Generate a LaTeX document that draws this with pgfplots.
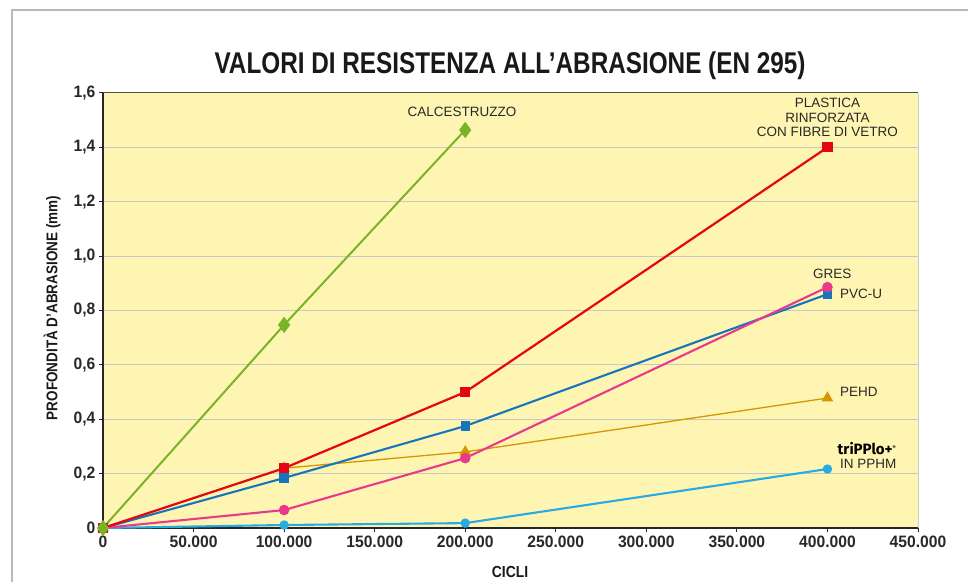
\documentclass[border=0pt]{standalone}
\usepackage{pgfplots}
\pgfplotsset{compat=1.18}
\usepackage{fontspec}
\setmainfont{Liberation Sans}
\newfontfamily\titlefont[FakeStretch=0.81]{Liberation Sans}
\newfontfamily\condfont[FakeStretch=0.87]{Liberation Sans}
\newfontfamily\tickfont[FakeStretch=0.95]{Liberation Sans}
\newfontfamily\logofont{Fira Sans}
\definecolor{bgy}{RGB}{255,245,178}
\definecolor{cgreen}{RGB}{120,180,40}
\definecolor{cred}{RGB}{227,6,19}
\definecolor{cblue}{RGB}{22,117,188}
\definecolor{cpink}{RGB}{232,57,140}
\definecolor{corange}{RGB}{214,150,0}
\definecolor{ccyan}{RGB}{41,171,226}
\definecolor{txt}{RGB}{40,40,40}
\begin{document}
\begin{tikzpicture}
\path[use as bounding box] (0,0) rectangle (968pt,582pt);
\draw[gray!55, line width=1.2pt] (12pt,0) -- (12pt,572pt) -- (968pt,572pt);
\begin{axis}[
  at={(103pt,54pt)}, anchor=south west,
  scale only axis, width=815pt, height=435pt,
  xmin=0, xmax=450000, ymin=0, ymax=1.6,
  axis lines*=left,
  axis line style={line width=1.8pt, color=black!85},
  axis background/.style={fill=bgy},
  xtick={0,50000,100000,150000,200000,250000,300000,350000,400000,450000},
  xticklabels={0,50.000,100.000,150.000,200.000,250.000,300.000,350.000,400.000,450.000},
  ytick={0,0.2,0.4,0.6,0.8,1.0,1.2,1.4,1.6},
  yticklabels={0,{0,2},{0,4},{0,6},{0,8},{1,0},{1,2},{1,4},{1,6}},
  scaled x ticks=false,
  tick align=outside, major tick length=4pt,
  tick style={line width=1pt, color=black!85},
  ticklabel style={font=\tickfont\fontsize{16.5}{18}\selectfont\bfseries, text=txt},
  ymajorgrids, grid style={line width=1pt, color=black!22},
  clip=false,
]
\addplot[color=ccyan, line width=2.1pt, mark=*, mark size=3.6pt] coordinates {(0,0) (100000,0.011) (200000,0.018) (400000,0.217)};
\addplot[color=corange, line width=1.3pt, mark=triangle*, mark size=5.5pt] coordinates {(0,0) (100000,0.22) (200000,0.28) (400000,0.478)};
\addplot[color=cblue, line width=2.1pt, mark=square*, mark size=3.6pt] coordinates {(0,0) (100000,0.184) (200000,0.375) (400000,0.86)};
\addplot[color=cpink, line width=2.1pt, mark=*, mark size=4.2pt] coordinates {(0,0) (100000,0.066) (200000,0.257) (400000,0.886)};
\addplot[color=cred, line width=2.2pt, mark=square*, mark size=4pt] coordinates {(0,0) (100000,0.22) (200000,0.50) (400000,1.40)};
\addplot[color=cgreen, line width=2pt, mark=diamond*, mark size=6.5pt] coordinates {(0,0) (100000,0.747) (200000,1.464)};
\node[text=txt, font=\fontsize{13.5}{15}\selectfont] at (axis cs:198200,1.53) {CALCESTRUZZO};
\node[text=txt, font=\fontsize{13.5}{14.5}\selectfont, align=center] at (axis cs:400000,1.51) {PLASTICA\\RINFORZATA\\CON FIBRE DI VETRO};
\node[text=txt, font=\fontsize{13.5}{15}\selectfont] at (axis cs:402700,0.934) {GRES};
\node[text=txt, font=\fontsize{13.5}{15}\selectfont, anchor=west] at (axis cs:405000,0.86) {PVC-U};
\node[text=txt, font=\fontsize{13.5}{15}\selectfont, anchor=west] at (axis cs:405000,0.50) {PEHD};
\node[text=black, font=\logofont\fontsize{15}{17}\selectfont\bfseries, anchor=west, inner xsep=1pt] at (axis cs:405000,0.294) {triPPlo+\raisebox{5pt}{\fontsize{5}{6}\selectfont\textregistered}};
\node[text=txt, font=\fontsize{13.5}{15}\selectfont, anchor=west] at (axis cs:405000,0.237) {IN PPHM};
\end{axis}
\draw[black!70, line width=1pt] (current axis.north west) -- (current axis.north east);
\draw[black!20, line width=1pt] (current axis.north east) -- (current axis.south east);
\node[text=black!90, font=\titlefont\fontsize{30}{32}\selectfont\bfseries] at (510pt,516pt) {VALORI DI RESISTENZA ALL’ABRASIONE (EN 295)};
\node[text=black!90, font=\condfont\fontsize{16}{18}\selectfont\bfseries] at (510pt,10pt) {CICLI};
\node[text=black!90, font=\condfont\fontsize{15.5}{17}\selectfont\bfseries, rotate=90] at (52pt,274pt) {PROFONDITÀ D’ABRASIONE (mm)};
\end{tikzpicture}
\end{document}
